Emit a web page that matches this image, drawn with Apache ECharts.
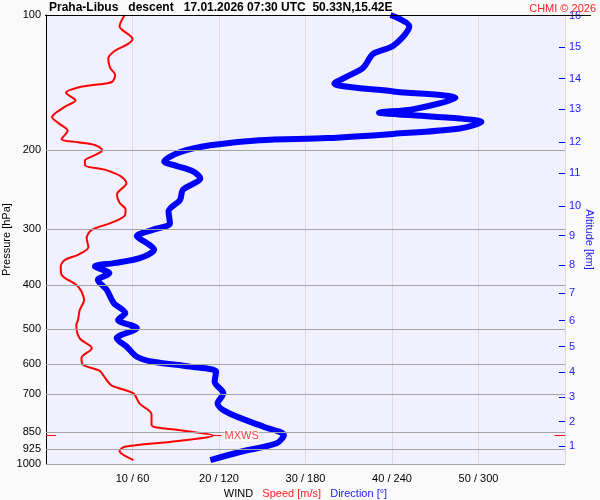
<!DOCTYPE html>
<html>
<head>
<meta charset="utf-8">
<script src="https://cdn.jsdelivr.net/npm/echarts@6/dist/echarts.min.js"></script>
<style>
  html, body { margin: 0; padding: 0; background: #fafafa; }
  #chart { width: 600px; height: 500px; }
</style>
</head>
<body>
<div id="chart"></div>
<script>
// wind speed profile: m/s against pressure level (hPa)
const speedVals = [9.1, 8.5, 10.0, 9.5, 8.0, 7.2, 7.4, 8.0, 7.6, 5.7, 3.7, 2.3, 3.4, 2.2, 0.7, 1.6, 2.5, 1.8, 3.7, 5.7,
  6.5, 5.7, 4.5, 4.5, 6.8, 8.7, 9.3, 8.2, 8.5, 9.2, 9.1, 7.6, 5.3, 4.7, 4.9, 3.7, 2.2, 1.7, 1.8, 3.5,
  4.1, 4.4, 3.9, 3.7, 3.5, 3.9, 5.3, 4.1, 4.3, 6.2, 7.0, 7.6, 10.1, 10.8, 12.2, 12.2, 15.3, 19.3, 14.5, 9.1,
  8.5, 10.1];
const speedPress = [100, 106, 113, 116, 120, 125, 131, 136, 141, 143, 145, 149, 155, 160, 169, 175, 181, 189, 192, 195,
  200, 205, 211, 216, 221, 229, 237, 251, 262, 271, 280, 290, 301, 314, 329, 342, 351, 363, 379, 399,
  413, 431, 454, 478, 490, 525, 552, 581, 602, 620, 650, 669, 696, 733, 775, 819, 840, 864, 892, 915,
  936, 980];

// wind direction profile: degrees against pressure level (hPa)
const dirVals = [239, 252, 241, 227, 220, 209, 200, 241, 284, 255, 231, 252, 287, 302, 287, 241, 195, 148, 114, 93,
  82, 91, 102, 107, 95, 93, 85, 86, 74, 63, 70, 75, 65, 47, 34, 44, 36, 42, 47, 55,
  50, 63, 49, 56, 63, 74, 100, 118, 117, 123, 119, 127, 151, 165, 160, 135, 114];
const dirPress = [100, 106, 117, 122, 131, 137, 142, 148, 153, 162, 165, 167, 170, 173, 179, 184, 188, 190, 195, 202,
  212, 217, 223, 231, 245, 258, 274, 291, 301, 311, 322, 333, 348, 357, 363, 376, 389, 409, 438, 461,
  478, 498, 525, 548, 577, 592, 607, 623, 656, 696, 733, 771, 826, 862, 899, 939, 980];

const pressTicks = [100, 200, 300, 400, 500, 600, 700, 850, 925, 1000];

// altitude scale on the right: km and the pressure it sits at
const altKm = [1, 2, 3, 4, 5, 6, 7, 8, 9, 10, 11, 12, 13, 14, 15, 16];
const altPress = [912, 805, 710, 625, 548, 479, 416, 360, 310, 266, 225, 192, 162, 138.5, 117.7, 100.3];

// max wind speed
const mxwsSpeed = 19.3;
const mxwsPress = 864;

const FONT = '"Liberation Sans", Arial, sans-serif';

const chart = echarts.init(document.getElementById('chart'));

chart.setOption({
  backgroundColor: '#fafafa',
  animation: false,
  textStyle: { fontFamily: FONT },
  title: [
    {
      text: 'Praha-Libus   descent   17.01.2026 07:30 UTC  50.33N,15.42E',
      left: 49,
      top: 2,
      padding: 0,
      textStyle: { fontSize: 12, fontWeight: 'bold', color: '#000', fontFamily: FONT }
    },
    {
      text: 'CHMI © 2026',
      right: 4,
      top: 3,
      padding: 0,
      textStyle: { fontSize: 11, fontWeight: 'normal', color: '#ff2020', fontFamily: FONT }
    }
  ],
  graphic: [
    {
      type: 'line',
      z: 100,
      shape: { x1: 45, y1: 15.5, x2: 591, y2: 15.5 },
      style: { stroke: '#000', lineWidth: 1 }
    }
  ],
  grid: {
    left: 46,
    right: 35,
    top: 15,
    bottom: 36,
    outerBoundsMode: 'none',
    show: true,
    backgroundColor: '#f0f0fe',
    borderWidth: 0
  },
  xAxis: [
    {
      type: 'value',
      min: 0,
      max: 60,
      interval: 10,
      axisLine: { show: false },
      axisTick: { show: false },
      axisLabel: {
        fontSize: 11,
        color: '#000',
        margin: 9,
        formatter: (v) => (v > 0 && v < 60) ? v + ' / ' + v * 6 : ''
      },
      splitLine: { showMaxLine: true, lineStyle: { color: '#dadada', width: 1 } },
      name: '{w|WIND}   {s|Speed [m/s]}   {d|Direction [°]}',
      nameLocation: 'middle',
      nameGap: 20,
      nameTextStyle: {
        fontSize: 11,
        rich: {
          w: { color: '#000', fontSize: 11 },
          s: { color: '#ff2020', fontSize: 11 },
          d: { color: '#2020ff', fontSize: 11 }
        }
      }
    },
    // direction uses its own hidden scale, 0..360 deg over the same width
    { type: 'value', min: 0, max: 360, show: false }
  ],
  yAxis: [
    {
      type: 'log',
      logBase: 10,
      min: 100,
      max: 1000,
      inverse: true,
      axisLine: { show: true, lineStyle: { color: '#000' } },
      axisTick: { show: false },
      axisLabel: { show: false },
      splitLine: { show: false },
      name: 'Pressure [hPa]',
      nameLocation: 'middle',
      nameGap: 34,
      nameTextStyle: { fontSize: 11, color: '#000' }
    },
    {
      type: 'log',
      logBase: 10,
      min: 100,
      max: 1000,
      inverse: true,
      position: 'right',
      axisLine: { show: false },
      axisTick: { show: false },
      axisLabel: { show: false },
      splitLine: { show: false },
      name: 'Altitude [km]',
      nameLocation: 'middle',
      nameRotate: -90,
      nameGap: 19,
      nameTextStyle: { fontSize: 11, color: '#2020ff' }
    }
  ],
  series: [
    // pressure levels: grid lines + labels
    {
      name: 'levels',
      type: 'line',
      data: [],
      z: 1,
      silent: true,
      markLine: {
        silent: true,
        symbol: 'none',
        animation: false,
        emphasis: { disabled: true },
        lineStyle: { color: '#a4a4a4', type: 'solid', width: 1 },
        label: {
          show: true,
          position: 'start',
          distance: 5,
          color: '#000',
          fontSize: 11,
          formatter: (p) => p.value
        },
        data: pressTicks.map((p) => ({ yAxis: p }))
      }
    },
    // altitude ticks on the right edge
    {
      name: 'altitude',
      type: 'line',
      data: [],
      z: 2,
      silent: true,
      markLine: {
        silent: true,
        symbol: 'none',
        animation: false,
        emphasis: { disabled: true },
        lineStyle: { color: '#0000ff', type: 'solid', width: 1 },
        label: {
          show: true,
          position: 'end',
          distance: 4,
          color: '#2020ff',
          fontSize: 11,
          formatter: (p) => altKm[p.dataIndex]
        },
        data: altPress.map((p) => [{ coord: [59.3, p] }, { coord: [60, p] }])
      }
    },
    {
      name: 'Direction',
      type: 'line',
      xAxisIndex: 1,
      yAxisIndex: 0,
      z: 3,
      data: dirVals.map((d, i) => [d, dirPress[i]]),
      smooth: 0.3,
      symbol: 'none',
      lineStyle: { color: '#0000ff', width: 6 }
    },
    {
      name: 'Speed',
      type: 'line',
      xAxisIndex: 0,
      yAxisIndex: 0,
      z: 4,
      data: speedVals.map((s, i) => [s, speedPress[i]]),
      smooth: 0.3,
      symbol: 'none',
      lineStyle: { color: '#ff0000', width: 2 },
      markLine: {
        silent: true,
        symbol: 'none',
        animation: false,
        emphasis: { disabled: true },
        lineStyle: { color: '#ff0000', type: 'solid', width: 1 },
        label: { show: false },
        data: [
          [{ coord: [0, mxwsPress] }, { coord: [1.15, mxwsPress] }],
          [{ coord: [58.8, mxwsPress] }, { coord: [60, mxwsPress] }],
          [
            {
              coord: [mxwsSpeed, mxwsPress],
              label: {
                show: true,
                position: 'end',
                distance: 3,
                formatter: 'MXWS',
                color: '#ff4040',
                fontSize: 11,
                backgroundColor: 'rgba(255,255,255,0.8)'
              }
            },
            { coord: [20.3, mxwsPress] }
          ]
        ]
      }
    }
  ]
});
</script>
</body>
</html>
